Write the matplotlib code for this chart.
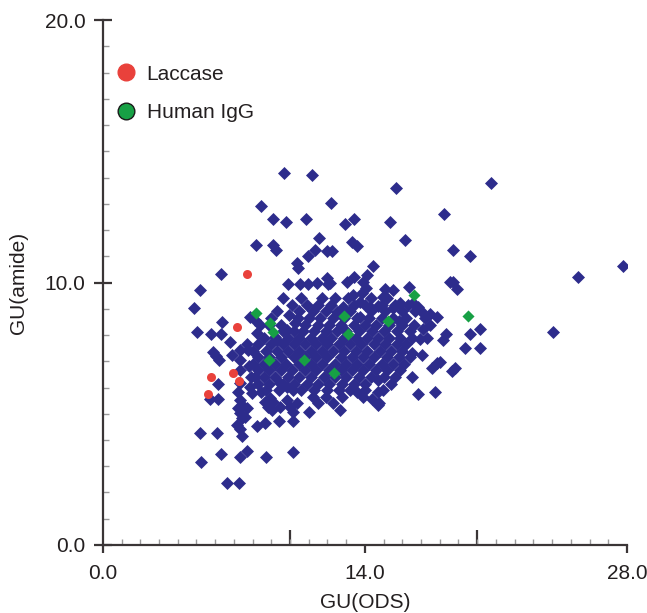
import numpy as np
import matplotlib
matplotlib.use("Agg")
import matplotlib.pyplot as plt
from matplotlib.lines import Line2D

plt.rcParams['font.family'] = ['Liberation Sans', 'DejaVu Sans']

# GU values of glycans: x = GU(ODS), y = GU(amide)
laccase_x = [7.71, 7.17, 5.79, 6.96, 7.28, 5.63]
laccase_y = [10.32, 8.30, 6.40, 6.55, 6.25, 5.75]

igg_x = [8.19, 8.93, 9.09, 8.88, 10.75, 12.35, 12.88, 13.09, 15.23, 16.61, 19.49]
igg_y = [8.84, 8.46, 8.11, 7.05, 7.05, 6.55, 8.72, 8.04, 8.53, 9.52, 8.72]

# database glycans, scattered ones
db_outer = [
    (9.67, 14.17), (11.17, 14.10), (20.72, 13.79), (15.65, 13.60), (8.45, 12.91),
    (12.19, 13.03), (18.21, 12.61), (9.09, 12.42), (9.79, 12.30), (10.85, 12.42),
    (12.93, 12.23), (13.41, 12.42), (15.33, 12.30), (11.55, 11.70), (16.13, 11.62),
    (8.19, 11.43), (9.09, 11.43), (9.25, 11.24), (13.31, 11.54), (13.57, 11.39),
    (11.33, 11.24), (10.96, 11.01), (11.97, 11.20), (12.24, 11.20), (18.69, 11.24),
    (19.60, 11.01), (25.36, 10.21), (27.81, 10.63), (10.37, 10.74), (10.43, 10.55),
    (6.32, 10.32), (14.43, 10.63), (14.11, 10.29), (13.41, 10.21), (13.04, 10.02),
    (12.13, 9.98), (13.89, 10.02), (14.05, 9.79), (13.84, 9.60), (13.36, 9.52),
    (15.07, 9.75), (15.49, 9.71), (16.35, 9.83), (18.53, 10.02), (18.69, 10.02),
    (18.91, 9.75), (14.96, 9.45), (13.73, 9.26), (12.83, 9.07), (12.51, 8.88),
    (14.27, 9.07), (14.69, 9.10), (15.49, 9.03), (15.87, 9.22), (16.56, 9.22),
    (16.83, 9.07), (17.09, 8.84), (17.47, 8.80), (17.84, 8.69), (13.73, 8.69),
    (9.89, 9.94), (10.53, 9.94), (10.96, 9.94), (11.44, 9.98), (11.97, 10.17),
    (12.03, 9.94),
    (5.20, 9.71), (4.88, 9.03), (6.37, 8.50), (5.04, 8.11), (5.79, 8.04),
    (6.32, 8.04), (6.80, 7.73), (5.89, 7.35), (6.05, 7.20), (6.21, 7.05),
    (6.16, 6.13), (5.73, 5.56), (6.16, 5.56), (6.91, 7.24), (7.33, 7.43),
    (7.76, 7.43), (7.33, 7.05), (7.81, 6.82), (7.33, 6.67), (8.13, 6.40),
    (8.24, 8.08), (7.87, 8.69), (8.13, 8.57), (8.40, 8.38), (9.20, 7.92),
    (9.31, 7.81), (9.95, 8.76), (9.84, 8.19), (10.27, 8.46),
    (20.13, 8.23), (19.60, 8.04), (24.03, 8.11), (20.13, 7.50), (19.33, 7.50),
    (18.32, 8.04), (18.16, 7.81), (17.09, 8.23), (16.93, 7.85), (17.84, 6.93),
    (17.57, 6.74), (18.00, 6.97), (18.80, 6.74), (18.64, 6.63), (16.83, 5.75),
    (17.73, 5.83), (16.51, 7.31), (17.04, 7.24), (15.81, 8.53),
    (14.75, 5.41), (14.37, 5.56), (12.67, 5.14), (14.96, 5.90), (14.69, 6.29),
    (10.16, 4.72), (10.16, 3.54), (14.69, 5.83), (14.69, 5.33), (11.01, 5.07),
    (13.57, 5.83),
    (5.20, 4.27), (6.11, 4.27), (5.25, 3.16), (6.32, 3.47), (7.33, 3.35),
    (7.71, 3.58), (8.72, 3.35), (6.64, 2.36), (7.28, 2.36), (8.24, 4.53),
    (8.67, 4.65), (9.41, 4.72), (7.44, 4.15), (7.33, 4.42), (7.17, 4.57),
    (7.33, 5.52), (7.23, 5.22), (7.44, 5.33), (7.71, 5.22), (7.87, 6.02),
    (7.97, 5.79), (8.45, 5.83), (8.67, 5.45), (8.83, 5.26), (9.04, 5.14),
    (9.09, 5.45), (8.93, 5.60), (9.47, 5.26), (9.84, 5.52), (10.00, 5.26),
    (10.16, 5.07), (10.37, 5.41), (9.47, 6.17), (9.84, 6.02), (10.16, 5.90),
    (7.33, 5.03), (7.44, 4.84), (7.60, 4.88), (7.33, 6.17), (7.23, 5.83),
]

# dense core, row by row (GU(amide) -> GU(ODS) values)
core_y = [9.40, 9.15, 8.90, 8.65, 8.40, 8.15, 7.90, 7.65, 7.40,
          7.15, 6.90, 6.65, 6.40, 6.15, 5.90, 5.65, 5.40]
core_x = [
    [9.6, 10.6, 11.7, 12.4, 13.1, 14.3, 15.2],
    [10.1, 10.9, 11.5, 12.2, 13.4, 14.0, 14.9, 15.6, 16.3],
    [9.3, 10.5, 11.2, 11.9, 13.2, 14.3, 15.1, 16.0, 16.7],
    [9.0, 10.4, 11.0, 11.6, 12.3, 12.9, 13.6, 14.2, 14.9, 15.5, 16.2, 17.2],
    [8.9, 9.5, 10.8, 11.5, 12.1, 12.7, 13.4, 14.0, 14.6, 15.3, 16.0, 16.6, 17.5],
    [9.6, 10.2, 10.7, 11.3, 11.9, 12.5, 13.0, 13.7, 14.4, 15.0, 15.7, 16.4],
    [8.6, 9.9, 10.5, 11.1, 11.7, 12.2, 12.9, 13.5, 14.1, 14.7, 15.3, 15.9, 16.5, 17.3],
    [7.7, 8.3, 9.0, 9.6, 10.2, 10.8, 11.4, 12.0, 12.6, 13.2, 13.8, 14.5, 15.1, 15.7, 16.2],
    [8.0, 8.7, 9.3, 9.9, 10.5, 11.1, 11.7, 12.3, 12.9, 13.5, 14.1, 14.8, 15.4, 16.0],
    [8.3, 8.9, 9.5, 10.2, 10.8, 11.4, 12.0, 12.7, 13.3, 13.9, 14.5, 15.2, 15.8, 16.4],
    [8.0, 8.6, 9.2, 9.8, 10.5, 11.1, 11.7, 12.4, 13.0, 13.6, 14.2, 14.9, 15.5, 16.1],
    [8.3, 8.9, 9.5, 10.1, 10.8, 11.4, 12.1, 12.7, 13.3, 13.9, 14.6, 15.2, 15.9],
    [7.9, 8.6, 9.2, 9.9, 10.5, 11.1, 11.8, 12.4, 13.0, 13.7, 14.3, 15.0, 15.6, 16.5],
    [8.3, 8.9, 9.6, 10.2, 10.9, 11.5, 12.1, 12.8, 13.4, 14.0, 15.4],
    [8.7, 9.4, 10.6, 11.3, 12.0, 12.6, 13.2, 14.0],
    [11.2, 11.9, 12.8, 13.9],
    [11.5, 12.3],
]

db_x = [p[0] for p in db_outer]
db_y = [p[1] for p in db_outer]
for yy, xs in zip(core_y, core_x):
    db_x += xs
    db_y += [yy] * len(xs)

BLUE = '#2d2c8c'
RED = '#e9413b'
GREEN = '#17a045'
TXT = '#231f20'
AX = '#3a3536'
FS = 15

fig = plt.figure(figsize=(6.47, 6.13), dpi=100)
ax = fig.add_axes([0.159, 0.111, 0.81, 0.856])

ax.scatter(db_x, db_y, marker='D', s=44, c=BLUE, linewidths=0, zorder=2)
ax.scatter(laccase_x, laccase_y, marker='o', s=42, c=RED, linewidths=0, zorder=3)
ax.scatter(igg_x, igg_y, marker='D', s=38, c=GREEN, linewidths=0, zorder=3)

ax.set_xlim(0, 28)
ax.set_ylim(0, 20)
for s in ['top', 'right']:
    ax.spines[s].set_visible(False)
for s in ['left', 'bottom']:
    ax.spines[s].set_color(AX)
    ax.spines[s].set_linewidth(1.6)

ax.set_xticks([0, 14, 28])
ax.set_xticklabels(['0.0', '14.0', '28.0'])
ax.set_yticks([0, 10, 20])
ax.set_yticklabels(['0.0', '10.0', '20.0'])
ax.set_xticks(np.arange(0, 29, 1), minor=True)
ax.set_yticks(np.arange(0, 21, 1), minor=True)
ax.tick_params(axis='x', which='major', direction='out', length=6, width=1.6,
               color=AX, labelsize=FS, labelcolor=TXT, pad=8)
ax.tick_params(axis='y', which='major', direction='inout', length=13, width=1.6,
               color=AX, labelsize=FS, labelcolor=TXT, pad=6)
ax.tick_params(which='minor', direction='in', length=4, width=1, color='#9a9a9a')

# longer inward ticks at 10 and 20 on the x axis
sec = ax.secondary_xaxis('bottom')
sec.set_xticks([10, 20])
sec.set_xticklabels([])
sec.tick_params(direction='in', length=11, width=1.6, color=AX)
sec.spines['bottom'].set_visible(False)

ax.set_xlabel('GU(ODS)', fontsize=FS, color=TXT, labelpad=7)
ax.set_ylabel('GU(amide)', fontsize=FS, color=TXT, labelpad=12)

handles = [
    Line2D([], [], marker='o', linestyle='none', markersize=12,
           markerfacecolor=RED, markeredgecolor=RED, label='Laccase'),
    Line2D([], [], marker='o', linestyle='none', markersize=12,
           markerfacecolor=GREEN, markeredgecolor='#1a1a1a', markeredgewidth=1,
           label='Human IgG'),
]
ax.legend(handles=handles, loc='upper left', bbox_to_anchor=(-0.018, 0.947),
          frameon=False, fontsize=FS, labelspacing=0.95, handletextpad=0.25,
          handlelength=1.5, borderpad=0.3, labelcolor=TXT)

fig.savefig('out.png', dpi=100)
